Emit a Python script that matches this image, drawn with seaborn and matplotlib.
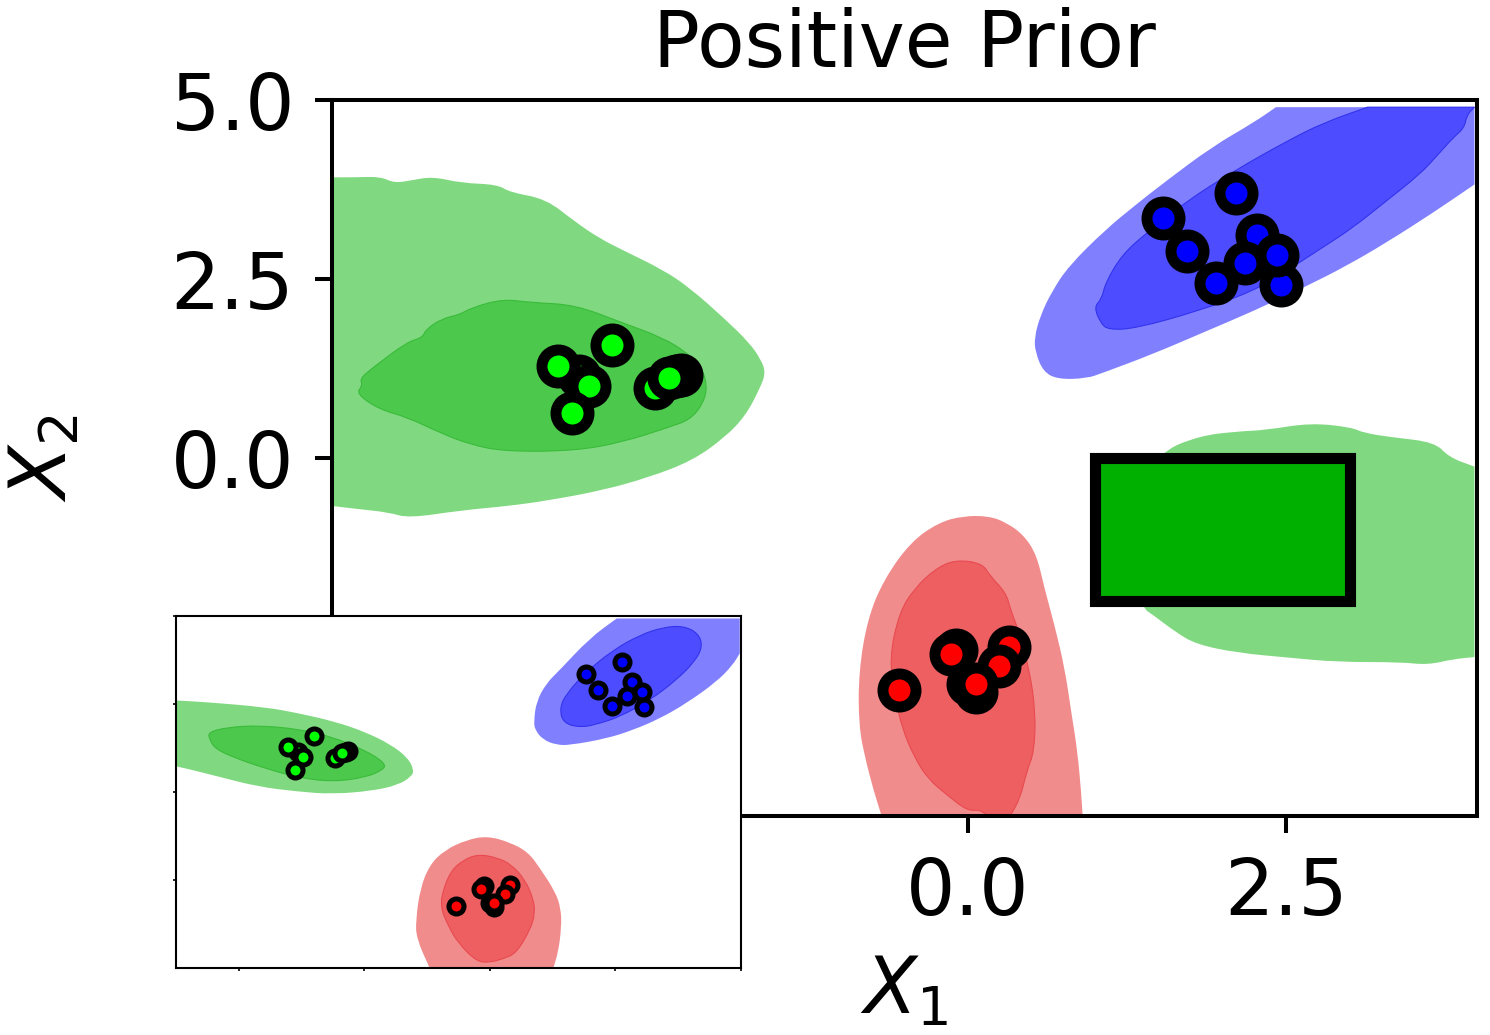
import pandas as pd
import seaborn as sns
import matplotlib
matplotlib.use("Agg")
import matplotlib.pyplot as plt
from matplotlib.patches import Rectangle, PathPatch
from matplotlib.path import Path

# observed points per class (draw order matters, later ones sit on top)
green_x = [-3.06, -2.26, -2.30, -3.22, -2.80, -2.98, -3.11, -2.46, -2.35]
green_y = [1.15, 1.16, 1.15, 1.28, 1.58, 1.00, 0.63, 0.98, 1.12]
blue_x = [2.46, 2.27, 1.535, 2.105, 1.72, 1.95, 2.18, 2.43]
blue_y = [2.42, 3.12, 3.35, 3.70, 2.89, 2.45, 2.73, 2.84]
red_x = [0.059, 0.0, 0.325, 0.245, -0.547, -0.094, -0.134, 0.059]
red_y = [-3.27, -3.16, -2.64, -2.90, -3.235, -2.68, -2.744, -3.15]

# main panel contours (positive prior)
main_green_outer_x = [-5.0, -4.81, -4.62, -4.51, -4.37, -4.21, -3.98, -3.70, -3.60, -3.32, -3.09, -2.90, -2.70, -2.40, -2.19, -1.91, -1.72, -1.63, -1.59, -1.64, -1.75, -1.91, -2.17, -2.51, -2.87, -3.29, -3.61, -3.98, -4.40, -4.55, -4.81, -5.0]
main_green_outer_y = [3.92, 3.92, 3.93, 3.84, 3.88, 3.93, 3.84, 3.82, 3.71, 3.62, 3.30, 3.07, 2.89, 2.63, 2.38, 1.94, 1.61, 1.38, 1.19, 0.96, 0.59, 0.29, -0.04, -0.27, -0.45, -0.59, -0.67, -0.73, -0.84, -0.76, -0.71, -0.67]
main_green_inner_x = [-4.81, -4.76, -4.78, -4.68, -4.41, -4.29, -4.26, -4.13, -4.00, -3.90, -3.66, -3.43, -3.09, -2.72, -2.40, -2.21, -2.10, -2.05, -2.08, -2.18, -2.35, -2.72, -3.09, -3.64, -3.92, -4.16, -4.41, -4.63]
main_green_inner_y = [0.90, 1.01, 1.11, 1.26, 1.62, 1.68, 1.80, 1.95, 2.00, 2.10, 2.22, 2.17, 2.14, 1.89, 1.68, 1.47, 1.29, 1.01, 0.77, 0.54, 0.43, 0.22, 0.10, 0.09, 0.19, 0.36, 0.57, 0.68]
main_green_right_x = [1.50, 1.82, 2.11, 2.34, 2.69, 3.01, 3.11, 3.33, 3.67, 3.78, 3.98, 3.98, 3.81, 3.61, 3.40, 2.90, 2.53, 2.11, 1.79, 1.63, 1.46, 1.36, 1.15]
main_green_right_y = [0.08, 0.31, 0.37, 0.39, 0.49, 0.43, 0.35, 0.29, 0.22, 0.01, -0.12, -2.78, -2.81, -2.89, -2.85, -2.85, -2.79, -2.72, -2.60, -2.43, -2.20, -2.08, -0.85]
main_blue_outer_x = [2.42, 3.98, 3.98, 3.65, 3.28, 2.97, 2.66, 2.24, 1.87, 1.45, 1.06, 0.93, 0.70, 0.59, 0.53, 0.52, 0.57, 0.66, 0.79, 1.08, 1.32, 1.55, 1.92, 2.24]
main_blue_outer_y = [4.90, 4.90, 3.82, 3.42, 3.00, 2.68, 2.40, 2.05, 1.77, 1.45, 1.19, 1.11, 1.10, 1.21, 1.47, 1.68, 2.00, 2.33, 2.68, 3.19, 3.54, 3.86, 4.35, 4.68]
main_blue_inner_x = [3.14, 3.98, 3.92, 3.90, 3.81, 3.69, 3.55, 3.28, 3.02, 2.76, 2.50, 2.24, 1.82, 1.32, 1.10, 1.04, 0.99, 1.05, 1.08, 1.21, 1.40, 1.71, 2.11, 2.50, 2.79]
main_blue_inner_y = [4.90, 4.90, 4.79, 4.61, 4.47, 4.23, 3.96, 3.58, 3.21, 2.91, 2.61, 2.33, 2.06, 1.81, 1.79, 1.89, 2.11, 2.22, 2.45, 2.84, 3.14, 3.58, 4.03, 4.42, 4.68]
main_red_outer_x = [-0.68, 0.90, 0.89, 0.86, 0.81, 0.76, 0.68, 0.60, 0.54, 0.44, 0.30, 0.16, -0.04, -0.23, -0.45, -0.66, -0.79, -0.86, -0.86, -0.81, -0.74]
main_red_outer_y = [-5.0, -5.0, -4.70, -4.10, -3.54, -2.94, -2.34, -1.82, -1.36, -1.08, -0.90, -0.81, -0.81, -0.90, -1.17, -1.69, -2.24, -2.99, -3.73, -4.19, -4.66]
main_red_inner_x = [-0.10, 0.11, 0.17, 0.30, 0.33, 0.40, 0.48, 0.53, 0.52, 0.46, 0.41, 0.33, 0.155, 0.09, -0.005, -0.17, -0.31, -0.42, -0.52, -0.57, -0.62, -0.54, -0.42, -0.26]
main_red_inner_y = [-1.42, -1.47, -1.64, -1.89, -2.10, -2.43, -2.94, -3.54, -4.10, -4.38, -4.75, -5.0, -5.0, -4.91, -4.93, -4.70, -4.49, -4.19, -3.77, -3.36, -2.80, -2.15, -1.82, -1.55]

# inset contours
inset_green_outer_x = [-5.0, -4.49, -3.58, -3.05, -2.47, -1.99, -1.57, -1.30, -1.21, -1.25, -1.46, -1.88, -2.52, -3.05, -3.69, -4.33, -4.75, -5.0]
inset_green_outer_y = [2.60, 2.55, 2.41, 2.24, 2.00, 1.71, 1.34, 0.96, 0.61, 0.44, 0.20, 0.03, -0.06, 0.01, 0.15, 0.44, 0.63, 0.73]
inset_green_inner_x = [-4.49, -4.17, -3.69, -3.05, -2.52, -1.99, -1.66, -1.70, -1.99, -2.52, -3.05, -3.58, -4.11, -4.38, -4.46]
inset_green_inner_y = [1.70, 1.84, 1.89, 1.79, 1.57, 1.19, 0.81, 0.63, 0.41, 0.29, 0.41, 0.67, 1.00, 1.24, 1.48]
inset_blue_outer_x = [2.02, 3.98, 3.98, 3.87, 3.61, 3.13, 2.71, 2.28, 1.86, 1.27, 1.06, 0.85, 0.72, 0.70, 0.74, 0.90, 1.11, 1.59]
inset_blue_outer_y = [4.93, 4.93, 3.94, 3.61, 3.13, 2.52, 2.09, 1.76, 1.52, 1.33, 1.34, 1.48, 1.76, 2.00, 2.57, 3.09, 3.46, 4.37]
inset_blue_inner_x = [3.08, 3.32, 3.39, 3.26, 2.97, 2.55, 2.07, 1.75, 1.46, 1.17, 1.11, 1.22, 1.54, 1.96, 2.39, 2.76]
inset_blue_inner_y = [4.72, 4.51, 4.13, 3.70, 3.18, 2.61, 2.14, 1.95, 1.83, 1.95, 2.38, 2.80, 3.42, 4.03, 4.46, 4.68]
inset_red_outer_x = [-0.04, 0.32, 0.61, 0.80, 1.04, 1.13, 1.14, 1.09, 1.01, -0.96, -1.17, -1.18, -1.11, -0.96, -0.72, -0.37]
inset_red_outer_y = [-1.25, -1.43, -1.71, -2.17, -2.83, -3.30, -3.83, -4.54, -5.0, -5.0, -4.16, -3.64, -2.74, -2.07, -1.65, -1.36]
inset_red_inner_x = [-0.19, 0.11, 0.35, 0.56, 0.69, 0.72, 0.64, 0.42, 0.21, 0.00, -0.21, -0.50, -0.66, -0.79, -0.74, -0.61, -0.42]
inset_red_inner_y = [-1.77, -1.86, -2.07, -2.50, -3.02, -3.45, -3.92, -4.58, -4.74, -4.84, -4.82, -4.30, -3.82, -3.26, -2.74, -2.22, -1.93]

# the query box
box_x = 1.0
box_y = -2.0
box_w = 2.0
box_h = 2.0

main_xticks = [0.0, 2.5]
main_yticks = [0.0, 2.5, 5.0]
inset_xticks = [-4, -2, 0, 2, 4]
inset_yticks = [-2.5, 0, 2.5, 5]

LIGHT = {"green": "#80d980", "blue": "#8080ff", "red": "#f18c8c"}
DARK = {"green": "#4cc84c", "blue": "#4d4dff", "red": "#ee5f61"}
EDGE = {"green": "#3abb3a", "blue": "#3333ee", "red": "#e84a50"}
POINT = {"green": "#00ff00", "blue": "#0000ff", "red": "#ff0000"}

sns.set_style("ticks")
W, H = 1490, 1035


def px_axes(fig, x0, y0, x1, y1):
    # axes from pixel box, y counted from the top
    return fig.add_axes([x0 / W, 1 - y1 / H, (x1 - x0) / W, (y1 - y0) / H])


def on_border(x, y):
    # contour got cut by the grid here, keep the corner sharp
    return x <= -5 or x >= 3.98 or y <= -5 or y >= 4.9


def draw_contour(ax, xs, ys, name, inner=False):
    n = len(xs)
    mid = lambda i: ((xs[i] + xs[(i + 1) % n]) / 2, (ys[i] + ys[(i + 1) % n]) / 2)
    verts = [mid(0)]
    codes = [Path.MOVETO]
    for k in range(1, n + 1):
        i = k % n
        if on_border(xs[i], ys[i]):
            codes += [Path.LINETO, Path.LINETO]
        else:
            codes += [Path.CURVE3, Path.CURVE3]
        verts += [(xs[i], ys[i]), mid(i)]
    path = Path(verts, codes)
    if inner:
        ax.add_patch(PathPatch(path, fc=DARK[name], ec=EDGE[name], lw=0.8))
    else:
        ax.add_patch(PathPatch(path, fc=LIGHT[name], lw=0))


def draw_points(ax, size, edge):
    for name, xs, ys in [("green", green_x, green_y), ("blue", blue_x, blue_y), ("red", red_x, red_y)]:
        df = pd.DataFrame({"x1": xs, "x2": ys})
        sns.scatterplot(data=df, x="x1", y="x2", ax=ax, color=POINT[name], s=size,
                        edgecolor="black", linewidth=edge, zorder=5, legend=False)


fig = plt.figure(figsize=(W / 100, H / 100), dpi=100)

ax = px_axes(fig, 332, 100, 1477, 816)
draw_contour(ax, main_green_outer_x, main_green_outer_y, "green")
draw_contour(ax, main_green_right_x, main_green_right_y, "green")
draw_contour(ax, main_green_inner_x, main_green_inner_y, "green", inner=True)
draw_contour(ax, main_blue_outer_x, main_blue_outer_y, "blue")
draw_contour(ax, main_blue_inner_x, main_blue_inner_y, "blue", inner=True)
draw_contour(ax, main_red_outer_x, main_red_outer_y, "red")
draw_contour(ax, main_red_inner_x, main_red_inner_y, "red", inner=True)
draw_points(ax, 565, 7.9)
ax.add_patch(Rectangle((box_x, box_y), box_w, box_h, fc="#00b000", ec="black", lw=8, zorder=6))
ax.set_xlim(-5, 4)
ax.set_ylim(-5, 5)
ax.set_xticks(main_xticks)
ax.set_yticks(main_yticks)
ax.tick_params(labelsize=56, length=12.2, width=2.9, color="black", labelcolor="black")
ax.tick_params(axis="x", pad=16)
ax.tick_params(axis="y", pad=15)
for s in ax.spines.values():
    s.set_linewidth(2.9)
    s.set_color("black")
ax.set_title("Positive Prior", fontsize=56, pad=24, color="black")
ax.set_xlabel("$X_1$", fontsize=56, labelpad=16, color="black")
ax.set_ylabel("$X_2$", fontsize=56, labelpad=64, color="black")

ins = px_axes(fig, 176, 616, 741, 968)
ins.set_facecolor("white")
ins.set_zorder(10)
draw_contour(ins, inset_green_outer_x, inset_green_outer_y, "green")
draw_contour(ins, inset_green_inner_x, inset_green_inner_y, "green", inner=True)
draw_contour(ins, inset_blue_outer_x, inset_blue_outer_y, "blue")
draw_contour(ins, inset_blue_inner_x, inset_blue_inner_y, "blue", inner=True)
draw_contour(ins, inset_red_outer_x, inset_red_outer_y, "red")
draw_contour(ins, inset_red_inner_x, inset_red_inner_y, "red", inner=True)
draw_points(ins, 117, 3.6)
ins.set_xlim(-5, 4)
ins.set_ylim(-5, 5)
ins.set_xticks(inset_xticks)
ins.set_yticks(inset_yticks)
ins.tick_params(labelbottom=False, labelleft=False, length=2.2, width=1.4)
ins.set_xlabel("")
ins.set_ylabel("")
for s in ins.spines.values():
    s.set_linewidth(1.5)
    s.set_color("black")

fig.savefig("out.png", dpi=100)
